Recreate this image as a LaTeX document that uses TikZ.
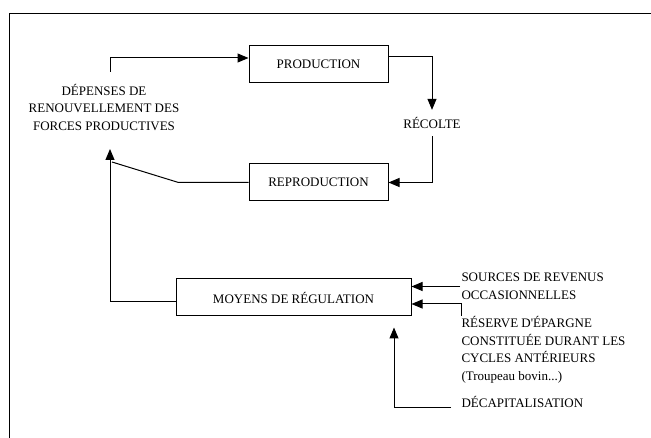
\documentclass[tikz,border=0pt]{standalone}
\usepackage{fontspec}
\setmainfont{Liberation Serif}
\usetikzlibrary{arrows.meta,positioning}

\begin{document}
\begin{tikzpicture}[x=1pt,y=-1pt,line width=1pt,
  box/.style={draw,minimum width=139pt,minimum height=37pt,inner sep=0pt},
  lbl/.style={inner sep=0pt,font=\fontsize{13}{17.5}\selectfont},
  arr/.style={-{Triangle[length=11pt,width=9pt]}}]
\useasboundingbox (0,0) rectangle (651,438);
\draw (9,438) -- (9,14) -- (651,14);
\node[box,lbl] (prod) at (318.5,64.5) {PRODUCTION};
\node[box,lbl] (repro) at (318.5,182.5) {REPRODUCTION};
\node[box,lbl,minimum width=235pt] (reg) at (293.5,297.5) {MOYENS DE RÉGULATION};
\node[lbl,align=center] (dep) at (104,107.5) {DÉPENSES DE\\RENOUVELLEMENT DES\\FORCES PRODUCTIVES};
\node[lbl,inner ysep=7pt] (recolte) at (432,123) {RÉCOLTE};
\node[lbl,anchor=west,align=left] (sources) at (461,286.5) {SOURCES DE REVENUS\\OCCASIONNELLES};
\node[lbl,anchor=north west,align=left] (reserve) at (461,316) {RÉSERVE D\textquotesingle ÉPARGNE\\CONSTITUÉE DURANT LES\\CYCLES ANTÉRIEURS\\(Troupeau bovin...)};
\node[lbl,anchor=south west] (decap) at (461,408) {DÉCAPITALISATION};
\coordinate (depTop) at (110,72);
\coordinate (depBot) at (110,149);
\coordinate (bend) at (112,162);

\draw[arr] (depTop) |- ([yshift=6.5pt]prod.west);
\draw[arr] ([yshift=7.5pt]prod.east) -| (recolte.north);
\draw[arr] (recolte.south) |- (repro.east);
\draw (repro.west) -- ++(-70,0) -- (bend);
\draw[arr] ([yshift=-4.5pt]reg.west) -| (depBot);
\draw[arr] ([xshift=-1pt]sources.west) -- (sources.west -| reg.east);
\draw[arr] (reserve.north west) |- ([yshift=-6.5pt]reg.east);
\draw[arr,shorten >=11pt] ([xshift=-10pt]decap.south west) -| ([xshift=100.5pt]reg.south);
\end{tikzpicture}
\end{document}
